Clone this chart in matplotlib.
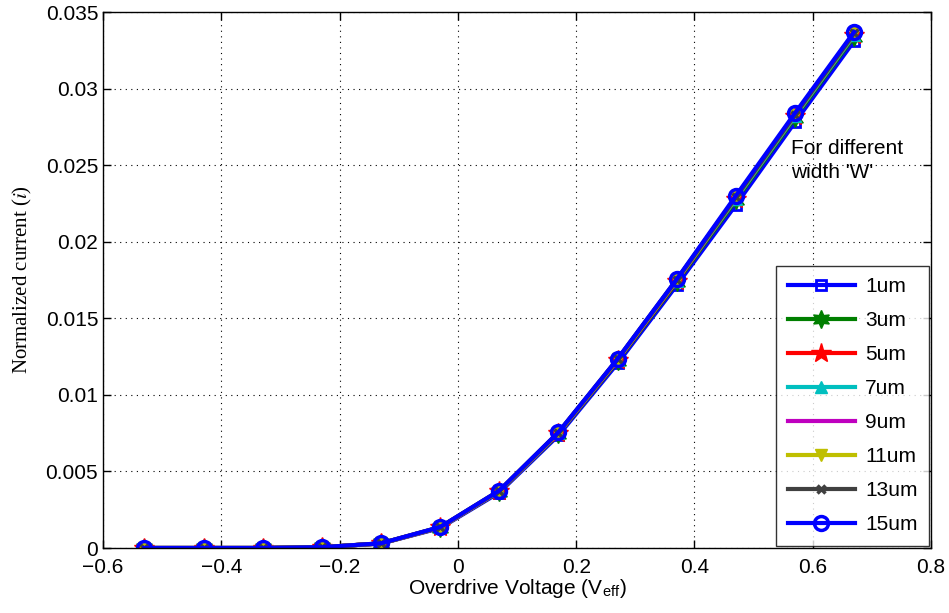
import matplotlib
matplotlib.use("Agg")
import matplotlib.pyplot as plt
import numpy as np

v_eff = [-0.53, -0.43, -0.33, -0.23, -0.13, -0.03, 0.07, 0.17, 0.27, 0.37, 0.47, 0.57, 0.67]
widths = ["1um", "3um", "5um", "7um", "9um", "11um", "13um", "15um"]
# per-width currents (1um sits slightly lower at high Veff)
currents = {
    "1um":  [0.0, 0.0, 0.0, 0.00005, 0.00029, 0.00130, 0.00362, 0.00735, 0.01205, 0.01715, 0.0224, 0.0278, 0.0331],
    "3um":  [0.0, 0.0, 0.0, 0.00005, 0.00030, 0.00133, 0.00368, 0.00745, 0.01220, 0.01735, 0.0227, 0.0281, 0.0334],
    "5um":  [0.0, 0.0, 0.0, 0.00005, 0.00030, 0.00134, 0.00370, 0.00748, 0.01225, 0.01742, 0.0228, 0.0282, 0.0335],
    "7um":  [0.0, 0.0, 0.0, 0.00005, 0.00030, 0.00135, 0.00371, 0.00750, 0.01228, 0.01746, 0.0228, 0.0282, 0.0335],
    "9um":  [0.0, 0.0, 0.0, 0.00005, 0.00030, 0.00135, 0.00372, 0.00752, 0.01230, 0.01748, 0.0229, 0.0283, 0.0336],
    "11um": [0.0, 0.0, 0.0, 0.00005, 0.00030, 0.00136, 0.00373, 0.00753, 0.01232, 0.01750, 0.0229, 0.0283, 0.0336],
    "13um": [0.0, 0.0, 0.0, 0.00005, 0.00030, 0.00136, 0.00374, 0.00754, 0.01233, 0.01752, 0.0229, 0.0283, 0.0336],
    "15um": [0.0, 0.0, 0.0, 0.00005, 0.00031, 0.00137, 0.00375, 0.00756, 0.01235, 0.01755, 0.0230, 0.0284, 0.0337],
}
x_ticks = [-0.6, -0.4, -0.2, 0, 0.2, 0.4, 0.6, 0.8]
x_ticklabels = ["\u22120.6", "\u22120.4", "\u22120.2", "0", "0.2", "0.4", "0.6", "0.8"]
y_ticks = [0, 0.005, 0.01, 0.015, 0.02, 0.025, 0.03, 0.035]
y_ticklabels = ["0", "0.005", "0.01", "0.015", "0.02", "0.025", "0.03", "0.035"]

styles = {
    "1um":  dict(color="#0000ff", marker="s", ms=7, mfc="none", mew=2),
    "3um":  dict(color="#007f00", marker=(6, 1, 0), ms=13, mfc="#007f00", mew=1),
    "5um":  dict(color="#ff0000", marker="*", ms=15, mfc="#ff0000", mew=1),
    "7um":  dict(color="#00bfbf", marker="^", ms=9, mfc="#00bfbf", mew=1),
    "9um":  dict(color="#bf00bf", marker=None),
    "11um": dict(color="#bfbf00", marker="v", ms=9, mfc="#bfbf00", mew=1),
    "13um": dict(color="#404040", marker="x", ms=6, mfc="#404040", mew=2.5),
    "15um": dict(color="#0000ff", marker="o", ms=10, mfc="none", mew=2.5),
}

plt.rcParams["font.family"] = ["Liberation Sans", "DejaVu Sans"]
plt.rcParams["mathtext.fontset"] = "stix"
fig = plt.figure(figsize=(9.49, 6.13), dpi=100)
ax = fig.add_axes([103/949, 1-548/613, (931-103)/949, (548-12)/613])

for w in widths:
    s = styles[w]
    kw = dict(color=s["color"], lw=3, label=w)
    if s["marker"] is not None:
        kw.update(marker=s["marker"], markersize=s["ms"], markerfacecolor=s["mfc"],
                  markeredgecolor=s["color"], markeredgewidth=s["mew"])
    ax.plot(v_eff, currents[w], **kw)

ax.set_xlim(-0.6, 0.8)
ax.set_ylim(0, 0.035)
ax.set_xticks(x_ticks)
ax.set_xticklabels(x_ticklabels)
ax.set_yticks(y_ticks)
ax.set_yticklabels(y_ticklabels)
ax.tick_params(direction="in", length=6, labelsize=15, top=True, right=True, width=1)
ax.tick_params(axis="x", pad=7)
ax.grid(True, linestyle=(0, (1, 4)), color="black", linewidth=0.8)
for sp in ax.spines.values():
    sp.set_linewidth(1)

ax.set_xlabel("Overdrive Voltage (V$_{\\mathregular{eff}}$)", fontsize=15, labelpad=0)
ax.set_ylabel("Normalized current ($i$)", fontsize=15, family=["Liberation Serif", "DejaVu Serif"], labelpad=8)
ax.text(0.564, 0.0239, "For different\nwidth 'W'", fontsize=15, ha="left", va="bottom", linespacing=1.3)

leg = ax.legend(loc="lower right", fontsize=15, frameon=True, fancybox=False, edgecolor="black",
                borderaxespad=0.1, handlelength=3.2, labelspacing=0.72, borderpad=0.55, handletextpad=0.5)
leg.get_frame().set_linewidth(1)

fig.savefig("out.png", dpi=100)
